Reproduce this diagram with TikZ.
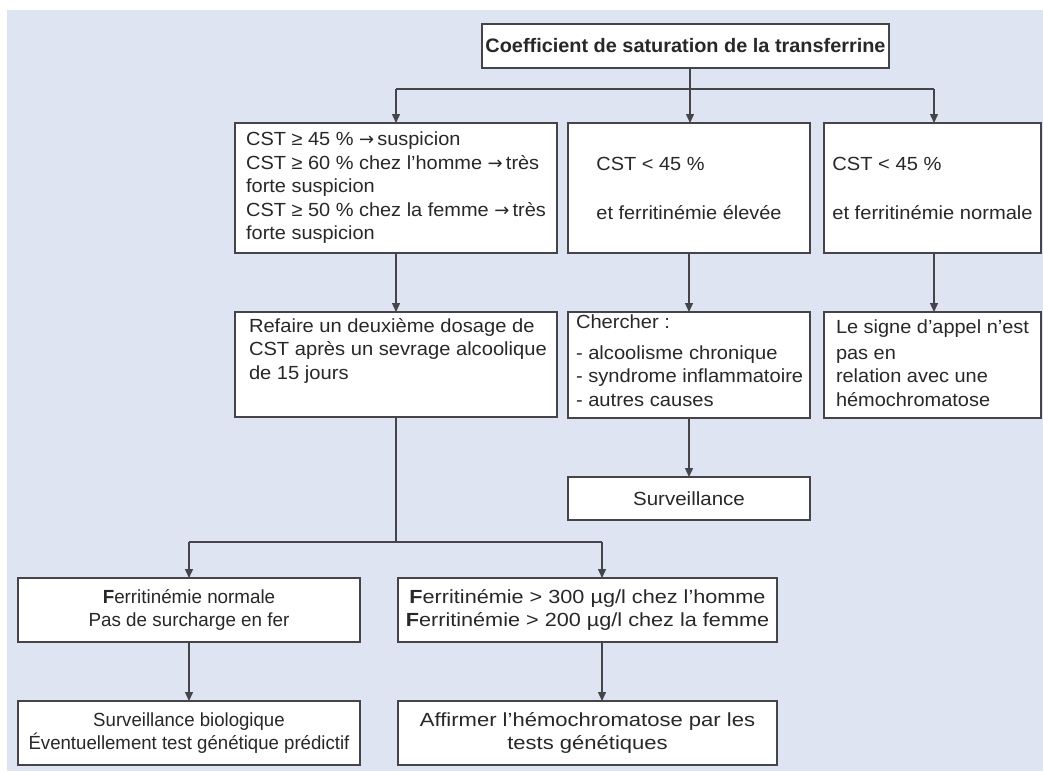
\documentclass[tikz,border=0pt]{standalone}
\usepackage{fontspec}
\setmainfont{Liberation Sans}
\newfontfamily\arrfont{DejaVu Sans}
\usetikzlibrary{arrows.meta,calc}
\definecolor{bg}{RGB}{223,228,242}
\definecolor{ln}{RGB}{68,68,74}
\definecolor{tx}{RGB}{40,40,40}
\newcommand{\ar}{{\arrfont\fontsize{18}{18}\selectfont →}}
\newcommand{\fs}[1]{\fontsize{19}{23.5}\selectfont\addfontfeature{FakeStretch=#1}}
\begin{document}
\begin{tikzpicture}[x=1pt,y=-1pt,
  box/.style={draw=ln, fill=white, line width=1.4pt, inner sep=0pt, outer sep=0pt, text=tx, font=\fs{1.05}, anchor=north west},
  txt/.style={inner sep=0pt, outer sep=0pt, text=tx, font=\fs{1.05}, align=left},
  conn/.style={draw=ln, line width=1.4pt},
  arr/.style={conn, -{Triangle[length=9pt,width=8pt]}}]
\fill[white] (0,0) rectangle (1043,771);
\fill[bg] (7,10) rectangle (1043,771);
\useasboundingbox (0,0) rectangle (1043,771);

% boxes
\node[box, minimum width=407pt, minimum height=44pt, font=\fontsize{19.5}{23.5}\selectfont\bfseries\addfontfeature{FakeStretch=1.02}] (title) at (482,24) {Coefficient de saturation de la transferrine};
\node[box, minimum width=322pt, minimum height=130pt, align=left] (cst1) at (235,123) {CST ≥ 45 \% \ar\,suspicion\\CST ≥ 60 \% chez l'homme \ar\,très\\forte suspicion\\CST ≥ 50 \% chez la femme \ar\,très\\forte suspicion};
\node[box, minimum width=242pt, minimum height=130pt, align=left] (cst2) at (568,123) {CST < 45 \%\\[25.5pt]et ferritinémie élevée};
\node[box, minimum width=217pt, minimum height=130pt, align=left, font=\fs{1.06}] (cst3) at (824,123) {CST < 45 \%\\[25.5pt]et ferritinémie normale};

\node[box, minimum width=322pt, minimum height=105pt] (refaire) at (235,312) {};
\node[box, minimum width=242pt, minimum height=106pt] (chercher) at (568,312) {};
\node[box, minimum width=217pt, minimum height=106pt] (signe) at (824,312) {};
\node[txt, anchor=base west, font=\fs{1.06}] (trefaire) at (249,379) {Refaire un deuxième dosage de\\CST après un sevrage alcoolique\\de 15 jours};
\node[txt, anchor=base west, font=\fs{1.06}] (tchercher) at (576,406) {Chercher~:\\[7.5pt]- alcoolisme chronique\\- syndrome inflammatoire\\- autres causes};
\node[txt, anchor=base west] (tsigne) at (836,406) {Le signe d'appel n'est\\[2.5pt]pas en\\relation avec une\\hémochromatose};

\node[box, minimum width=242pt, minimum height=43pt, font=\fs{1.08}] (surv) at (568,477) {Surveillance};

\node[box, minimum width=342pt, minimum height=64pt, align=center, font=\fs{0.99}] (fnorm) at (18,578) {\textbf{F}erritinémie normale\\Pas de surcharge en fer};
\node[box, minimum width=379pt, minimum height=64pt, align=center, font=\fs{1.14}] (fhigh) at (398,578) {\textbf{F}erritinémie > 300 µg/l chez l'homme\\\textbf{F}erritinémie > 200 µg/l chez la femme};
\node[box, minimum width=342pt, minimum height=64pt, align=center, font=\fs{0.98}] (survbio) at (18,701) {Surveillance biologique\\Éventuellement test génétique prédictif};
\node[box, minimum width=379pt, minimum height=64pt, align=center, font=\fs{1.16}] (affirmer) at (398,701) {Affirmer l'hémochromatose par les\\tests génétiques};

% connectors
\coordinate (j1) at (690,89);
\coordinate (jr1) at (934,89);
\draw[conn] (title.south -| j1) -- (j1);
\draw[conn] (j1 -| cst1.north) -- (jr1);
\draw[arr] (j1 -| cst1.north) -- (cst1.north);
\draw[arr] (j1) -- (j1 |- cst2.north);
\draw[arr] (jr1) -- (jr1 |- cst3.north);

\draw[arr] (cst1.south) -- (refaire.north);
\draw[arr] (cst2.south) -- (chercher.north);
\draw[arr] (jr1 |- cst3.south) -- (jr1 |- signe.north);
\draw[arr] (chercher.south) -- (surv.north);

\coordinate (j2) at ($(refaire.south)+(0,125)$);
\coordinate (jl) at (fnorm.north |- j2);
\coordinate (jr) at (602,542);
\draw[conn] (refaire.south) -- (j2);
\draw[conn] (jl) -- (jr);
\draw[arr] (jl) -- (fnorm.north);
\draw[arr] (jr) -- (jr |- fhigh.north);
\draw[arr] (fnorm.south) -- (survbio.north);
\draw[arr] (jr |- fhigh.south) -- (jr |- affirmer.north);
\end{tikzpicture}
\end{document}
